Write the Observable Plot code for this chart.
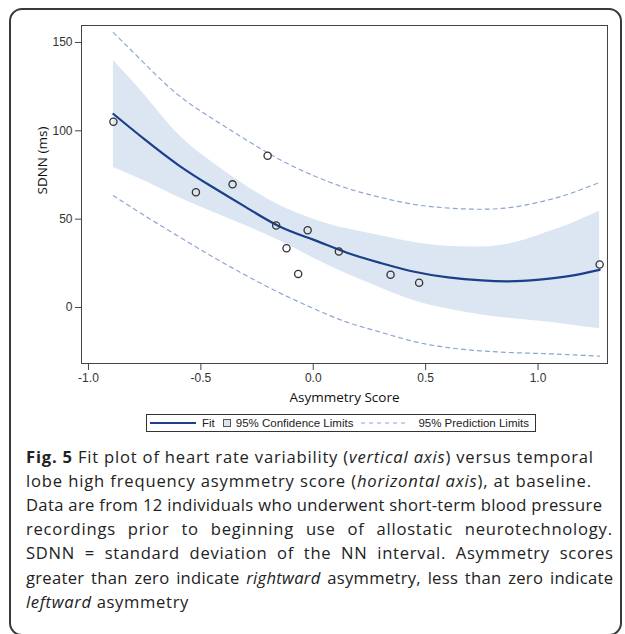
<!DOCTYPE html>
<html>
<head>
<meta charset="utf-8">
<script src="https://cdn.jsdelivr.net/npm/d3@7"></script>
<script src="https://cdn.jsdelivr.net/npm/@observablehq/plot@0.6"></script>
<style>
  html, body { margin: 0; padding: 0; background: #fff; }
  body { width: 625px; height: 634px; overflow: hidden; position: relative; font-family: "Liberation Sans", Arial, sans-serif; }
  #border { position: absolute; left: 9px; top: 8px; width: 613px; height: 628px; border: 2px solid #3a3a3a; border-radius: 13px; box-sizing: border-box; }
  #chart { position: absolute; left: 0; top: 0; }
  #legend { position: absolute; left: 146px; top: 414px; width: 390px; height: 18px; border: 1px solid #333; box-sizing: border-box; display: flex; align-items: center; font-size: 11.5px; color: #222; padding-left: 3px; white-space: nowrap; }
  #legend .sw { display: inline-block; }
  #caption { position: absolute; left: 26px; top: 444.5px; width: 600px; font-family: "Open Sans", "Noto Sans", sans-serif; font-size: 16.6px; line-height: 24.2px; color: #222; }
  #caption div { white-space: nowrap; }
</style>
</head>
<body>
<div id="border"></div>
<div id="chart"></div>
<div id="legend"></div>
<div id="caption"></div>
<script>
// Observed data points
const pointX = [-0.889, -0.522, -0.359, -0.203, -0.165, -0.119, -0.067, -0.025, 0.114, 0.344, 0.471, 1.274];
const pointY = [105.1, 65.2, 69.7, 85.9, 46.4, 33.5, 19.0, 43.7, 31.7, 18.5, 14.0, 24.3];

// Fit curve and limits
const curveX   = [-0.889, -0.75, -0.6, -0.45, -0.3, -0.15, 0, 0.15, 0.3, 0.45, 0.6, 0.75, 0.9, 1.05, 1.15, 1.274];
const fitY     = [109.5, 95.1, 80.6, 68.3, 56.8, 45.9, 38.4, 31.0, 25.2, 20.2, 17.0, 15.3, 14.9, 16.3, 18.0, 21.3];
const clmLower = [79.3, 71.6, 62.4, 54.2, 46.2, 37.8, 28.0, 19.0, 11.1, 3.8, -0.9, -4.2, -6.5, -8.3, -10.0, -12.0];
const clmUpper = [139.8, 120.3, 98.0, 82.2, 68.9, 57.8, 50.0, 44.5, 40.6, 36.8, 34.6, 34.3, 36.8, 43.0, 47.6, 54.5];
const plmLower = [63.3, 52.0, 40.3, 28.9, 18.2, 8.3, -0.5, -8.3, -14.0, -19.3, -22.7, -24.6, -25.6, -26.2, -26.8, -27.5];
const plmUpper = [155.6, 138.0, 120.2, 107.0, 95.0, 83.8, 74.7, 67.5, 62.3, 58.3, 56.3, 55.6, 57.0, 61.0, 64.8, 70.8];

const xTicks = [-1, -0.5, 0, 0.5, 1];
const yTicks = [0, 50, 100, 150];

const xLabel = "Asymmetry Score";
const yLabel = "SDNN (ms)";
const legendItems = ["Fit", "95% Confidence Limits", "95% Prediction Limits"];

const points = pointX.map((x, i) => ({x, y: pointY[i]}));
const curve = curveX.map((x, i) => ({x, fit: fitY[i], clo: clmLower[i], chi: clmUpper[i], plo: plmLower[i], phi: plmUpper[i]}));

const bandFill = "#dce6f2";
const fitColor = "#1b3f8b";
const predColor = "#8ea4d3";

const chart = Plot.plot({
  width: 625,
  height: 400,
  marginLeft: 81,
  marginRight: 18,
  marginTop: 25,
  marginBottom: 37,
  x: {domain: [-1.031, 1.309]},
  y: {domain: [-31.7, 159.6]},
  style: {fontFamily: "'Liberation Sans', Arial, sans-serif", fontSize: "12px", color: "#333", background: "transparent", overflow: "visible"},
  marks: [
    Plot.areaY(curve, {x: "x", y1: "clo", y2: "chi", fill: bandFill, curve: "natural"}),
    Plot.line(curve, {x: "x", y: "plo", stroke: predColor, strokeWidth: 1.2, strokeDasharray: "4,4", curve: "natural"}),
    Plot.line(curve, {x: "x", y: "phi", stroke: predColor, strokeWidth: 1.2, strokeDasharray: "4,4", curve: "natural"}),
    Plot.line(curve, {x: "x", y: "fit", stroke: fitColor, strokeWidth: 2.2, curve: "natural"}),
    Plot.dot(points, {x: "x", y: "y", r: 3.6, stroke: "#333", strokeWidth: 1.3, fill: "none"}),
    Plot.frame({stroke: "#444"}),
    Plot.axisX({ticks: xTicks, tickFormat: d => d.toFixed(1), tickSize: 7, tickPadding: 3, label: null, stroke: "#444"}),
    Plot.axisY({ticks: yTicks, tickFormat: d => String(d), tickSize: 6, tickPadding: 3, label: null, stroke: "#444"}),
    Plot.text([xLabel], {frameAnchor: "bottom", dy: 38, fontFamily: "'Open Sans', sans-serif", fontSize: 13.5, fill: "#111"}),
    Plot.text([yLabel], {frameAnchor: "left", dx: -39, rotate: -90, fontFamily: "'Open Sans', sans-serif", fontSize: 13.5, fill: "#111"})
  ]
});
document.getElementById("chart").appendChild(chart);

// Legend
const legend = document.getElementById("legend");
legend.innerHTML =
  `<svg class="sw" width="46" height="8"><line x1="0" y1="4" x2="46" y2="4" stroke="${fitColor}" stroke-width="2.2"/></svg>` +
  `<span style="margin-left:6px">${legendItems[0]}</span>` +
  `<svg class="sw" width="8" height="8" style="margin-left:8px"><rect x="0.5" y="0.5" width="7" height="7" fill="${bandFill}" stroke="#555"/></svg>` +
  `<span style="margin-left:5px">${legendItems[1]}</span>` +
  `<svg class="sw" width="48" height="8" style="margin-left:8px"><line x1="0" y1="4" x2="48" y2="4" stroke="${predColor}" stroke-width="1.2" stroke-dasharray="4,4"/></svg>` +
  `<span style="margin-left:9px">${legendItems[2]}</span>`;

// Caption: each line is fitted to the width it spans in the original
const captionLines = [
  {html: "<b>Fig. 5</b> Fit plot of heart rate variability (<i>vertical axis</i>) versus temporal", w: 567},
  {html: "lobe high frequency asymmetry score (<i>horizontal axis</i>), at baseline.", w: 565},
  {html: "Data are from 12 individuals who underwent short-term blood pressure", w: 576},
  {html: "recordings prior to beginning use of allostatic neurotechnology.", w: 586, just: true},
  {html: "SDNN = standard deviation of the NN interval. Asymmetry scores", w: 587, just: true},
  {html: "greater than zero indicate <i>rightward</i> asymmetry, less than zero indicate", w: 587, just: true},
  {html: "<i>leftward</i> asymmetry", w: null}
];
const cap = document.getElementById("caption");
const spacings = [];
captionLines.forEach(l => {
  const d = document.createElement("div");
  const s = document.createElement("span");
  s.innerHTML = l.html;
  d.appendChild(s);
  cap.appendChild(d);
  if (l.w) {
    const natural = s.getBoundingClientRect().width;
    const n = s.textContent.length;
    const words = s.textContent.split(" ").length - 1;
    let extra = l.w - natural;
    if (l.just && extra > 0) {
      const ls = extra * 0.5 / (n - 1);
      s.style.letterSpacing = ls + "px";
      s.style.wordSpacing = (extra * 0.5 / words) + "px";
    } else {
      const ls = extra / (n - 1);
      s.style.letterSpacing = ls + "px";
      if (!l.just) spacings.push(ls);
    }
  } else if (spacings.length) {
    s.style.letterSpacing = (spacings.reduce((a, b) => a + b, 0) / spacings.length) + "px";
  }
});
</script>
</body>
</html>
